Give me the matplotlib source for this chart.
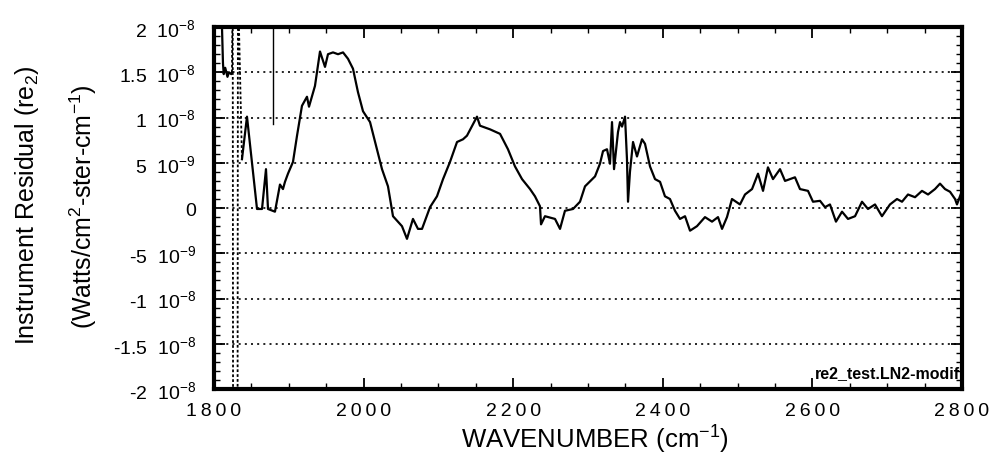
import numpy as np
import matplotlib
matplotlib.use('Agg')
import matplotlib.pyplot as plt
from matplotlib.ticker import MultipleLocator, FixedLocator, FixedFormatter, FuncFormatter

plt.rcParams['font.family'] = ['Liberation Sans', 'DejaVu Sans']
plt.rcParams['mathtext.fontset'] = 'custom'
plt.rcParams['mathtext.rm'] = 'Liberation Sans'
plt.rcParams['mathtext.it'] = 'Liberation Sans:italic'

# residual spectrum, wavenumber in cm^-1, residual in units of 1e-9 W/cm2-ster-cm-1
wavenumber = [1810, 1812, 1813, 1815, 1818, 1820, 1823, 1824, 1825, 1825.5,
              1831.5, 1832, 1837.4, 1844.1, 1857.5, 1864.2, 1869.5, 1872.2,
              1881.5, 1888.2, 1892.2, 1894.9, 1898.9, 1905.6, 1911.0, 1917.6,
              1924.3, 1927.0, 1935.0, 1941.7, 1948.4, 1952.4, 1959.1, 1965.8,
              1972.5, 1979.1, 1985.8, 1992.5, 1999.2, 2008.6, 2017.9, 2024.6,
              2032.6, 2039.3, 2051.3, 2058.0, 2066.0, 2072.7, 2078.1, 2088.8,
              2098.1, 2106.2, 2115.5, 2124.9, 2132.9, 2138.2, 2151.6, 2155.6,
              2169.0, 2182.4, 2193.0, 2202.4, 2211.8, 2222.5, 2229.1, 2235.8,
              2237.2, 2242.5, 2255.9, 2262.6, 2269.2, 2280.0, 2289.3, 2296.0,
              2309.4, 2316.0, 2320.1, 2325.4, 2329.4, 2332.1, 2334.8, 2340.1,
              2342.8, 2345.5, 2349.5, 2352.1, 2353.5, 2356.1, 2360.2, 2365.5,
              2372.2, 2376.2, 2382.9, 2389.6, 2396.3, 2402.9, 2409.6, 2416.3,
              2423.0, 2429.7, 2436.4, 2445.7, 2456.4, 2465.8, 2473.8, 2479.2,
              2485.8, 2492.5, 2503.2, 2509.9, 2519.3, 2527.3, 2534.0, 2540.6,
              2547.3, 2556.7, 2563.4, 2576.7, 2583.4, 2594.1, 2600.8, 2610.2,
              2616.8, 2623.5, 2631.5, 2639.6, 2647.6, 2657.0, 2666.3, 2674.3,
              2683.7, 2693.0, 2703.7, 2713.1, 2719.8, 2727.8, 2737.2, 2746.5,
              2754.6, 2763.9, 2770.6, 2777.3, 2784.0, 2790.7, 2793.3, 2800.0]
residual = [22, 16, 14.8, 15.5, 14.5, 15, 14.8, 15, 25, -25,
            -25, 25, 5.4, 10.1, -0.1, -0.1, 4.3, -0.1,
            -0.4, 2.6, 2.1, 2.9, 3.8, 5.1, 8.0, 11.3,
            12.3, 11.2, 13.5, 17.3, 15.6, 17.0, 17.2, 17.0,
            17.2, 16.5, 15.4, 12.8, 10.7, 9.5, 6.5, 4.3,
            2.4, -0.9, -2.0, -3.4, -1.2, -2.3, -2.3, 0.1,
            1.3, 3.2, 5.1, 7.3, 7.6, 8.0, 10.1, 9.1,
            8.7, 8.2, 6.5, 4.6, 3.2, 2.1, 1.3, 0.2,
            -1.8, -0.9, -1.2, -2.3, -0.3, -0.1, 0.7, 2.4,
            3.5, 4.9, 6.3, 6.5, 4.9, 9.5, 4.3, 8.4,
            9.5, 9.0, 10.1, 5.4, 0.7, 4.0, 7.3, 5.7,
            7.6, 7.1, 4.6, 3.2, 2.9, 1.3, 1.0, -0.3,
            -1.2, -0.9, -2.5, -2.0, -1.0, -1.5, -1.0, -2.3,
            -1.0, 1.0, 0.4, 1.5, 2.1, 3.8, 1.9, 4.5,
            3.2, 4.3, 3.0, 3.4, 2.1, 1.9, 0.7, 0.8,
            0.1, 0.4, -1.5, -0.4, -1.2, -0.9, 0.7, -0.1,
            0.4, -0.9, 0.4, 1.0, 0.7, 1.5, 1.2, 1.9,
            1.5, 2.1, 2.7, 2.1, 1.8, 1.0, 0.4, 1.9]

# isolated off-scale spike
spike_w = [1879, 1879]
spike_v = [25, 9.3]

ytick_vals = [2e-8, 1.5e-8, 1e-8, 5e-9, 0, -5e-9, -1e-8, -1.5e-8, -2e-8]
ytick_text = [r'2  10$^{-8}$', r'1.5  10$^{-8}$', r'1  10$^{-8}$', r'5  10$^{-9}$', '0',
              r'-5  10$^{-9}$', r'-1  10$^{-8}$', r'-1.5  10$^{-8}$', r'-2  10$^{-8}$']

w = np.array(wavenumber)
r = np.array(residual) * 1e-9

fig = plt.figure(figsize=(10, 4.6), dpi=100)
ax = fig.add_axes([0.214, 0.152, 0.748, 0.787])

for yv in [1.5e-8, 1e-8, 5e-9, 0, -5e-9, -1e-8, -1.5e-8]:
    ax.axhline(yv, color='black', lw=1.2, ls=(0, (1.2, 2.5)), zorder=1)

# the off-scale swings near 1825-1832 print as broken strokes
ax.plot(w[7:13], r[7:13], color='black', lw=1.3, ls=(0, (1.5, 1.2)), zorder=3)
ax.plot(w[:8], r[:8], '-', color='black', lw=1.6, zorder=3)
ax.plot(w[12:], r[12:], '-', color='black', lw=1.6, zorder=3)
ax.plot(spike_w, np.array(spike_v) * 1e-9, '-', color='black', lw=1.0, zorder=3)

ax.set_xlim(1800, 2800)
ax.set_ylim(-2e-8, 2e-8)

ax.xaxis.set_major_locator(MultipleLocator(200))
ax.xaxis.set_minor_locator(MultipleLocator(50))
ax.xaxis.set_major_formatter(FuncFormatter(lambda v, p: '\u2009'.join(f'{v:.0f}')))
ax.yaxis.set_major_locator(FixedLocator(ytick_vals))
ax.yaxis.set_major_formatter(FixedFormatter(ytick_text))
ax.yaxis.set_minor_locator(MultipleLocator(1e-9))

ax.tick_params(which='both', direction='in', top=True, right=True, color='black')
ax.tick_params(which='major', length=8, width=1.3, labelsize=14)
ax.tick_params(axis='y', which='major', pad=13)
ax.tick_params(axis='x', which='major', pad=9)
ax.tick_params(which='minor', length=4, width=1.0)

for s in ax.spines.values():
    s.set_linewidth(3)

fig.text(0.595, 1 - 440 / 460, r'WAVENUMBER (cm$^{-1}$)', fontsize=18.5,
         ha='center', va='center')
fig.text(0.027, 1 - 205 / 460, 'Instrument Residual (re$_2$)', fontsize=18,
         rotation=90, ha='center', va='center')
fig.text(0.083, 1 - 207 / 460, '(Watts/cm$^2$-ster-cm$^{-1}$)', fontsize=18,
         rotation=90, ha='center', va='center')

ax.text(0.997, 0.047, 're2_test.LN2-modif', transform=ax.transAxes,
        ha='right', va='center', fontsize=11.5, fontweight='bold')

fig.savefig('out.png', dpi=100)
